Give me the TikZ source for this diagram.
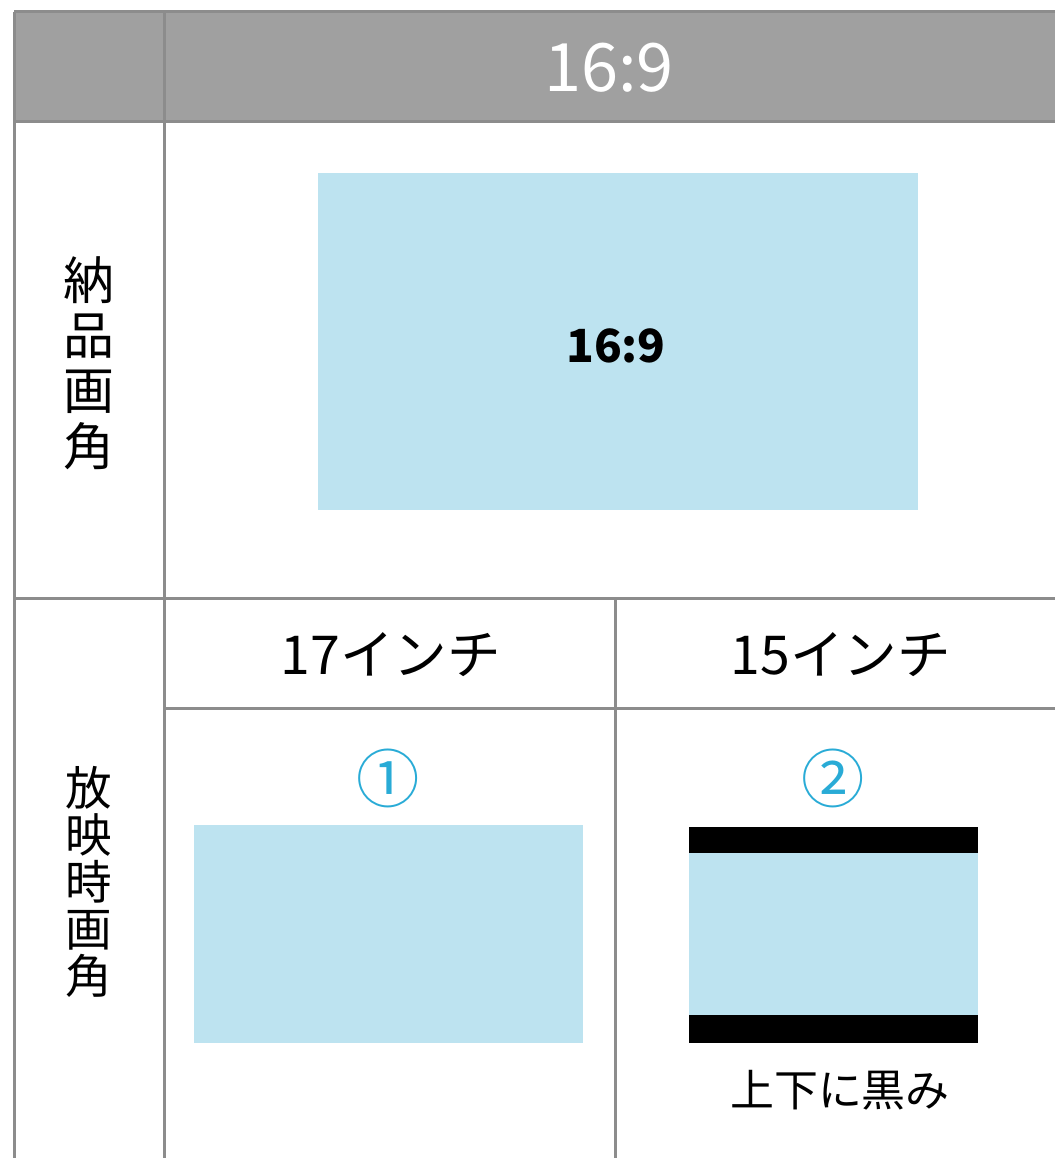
\documentclass[tikz,border=0pt]{standalone}
\usepackage{fontspec}
\setmainfont{Noto Sans CJK JP}
\usepackage{tikz}
\usetikzlibrary{positioning}

\definecolor{screenblue}{RGB}{189,227,240}
\definecolor{headgray}{RGB}{160,160,160}
\definecolor{rulegray}{RGB}{140,140,140}
\definecolor{markcyan}{RGB}{41,171,214}

\tikzset{
  gridline/.style={draw=rulegray, line width=0.6mm},
  rowlabel/.style={align=center, inner sep=0pt},
  sizelabel/.style={font=\fontsize{30.5}{32}\selectfont, inner sep=0pt},
  marknum/.style={font=\fontsize{36}{38}\selectfont, text=markcyan, inner sep=0pt}
}

\begin{document}
\begin{tikzpicture}[x=0.2mm,y=-0.2mm]
\useasboundingbox (0,0) rectangle (1055,1158);

% Header
\fill[headgray] (14,12) rectangle (1055,122);
\node[font=\fontsize{38}{40}\selectfont, text=white, inner sep=0pt] (head) at (609,68) {16:9};

% Grid lines
\draw[gridline] (14,12) -- (1055,12);
\draw[gridline] (14,122) -- (1055,122);
\draw[gridline] (14,598) -- (1055,598);
\draw[gridline] (164,708) -- (1055,708);
\draw[gridline] (14,12) -- (14,1158);
\draw[gridline] (164,12) -- (164,1158);
\draw[gridline] (615,598) -- (615,1158);

% Row labels
\node[rowlabel, font=\fontsize{29}{31.5}\selectfont] (nohin) at (89,363) {納\\品\\画\\角};
\node[rowlabel, font=\fontsize{26.5}{26.8}\selectfont] (hoei) at (89,882) {放\\映\\時\\画\\角};

% Delivered picture
\fill[screenblue] (318,173) rectangle (918,510);
\node[font=\bfseries\fontsize{26}{28}\selectfont, inner sep=0pt] (deliv) at (616,346) {16:9};

% Screen sizes
\node[sizelabel] (inch17) at (391,655) {17インチ};
\node[sizelabel] (inch15) at (841,655) {15インチ};

% Case 1
\node[marknum] (one) at (388,778) {①};
\fill[screenblue] (194,825) rectangle (583,1043);

% Case 2
\node[marknum] (two) at (833,778) {②};
\fill[screenblue] (689,827) rectangle (978,1043);
\fill[black] (689,827) rectangle (978,853);
\fill[black] (689,1015) rectangle (978,1043);
\node[font=\fontsize{25}{27}\selectfont, inner sep=0pt] (bars) at (840,1090) {上下に黒み};
\end{tikzpicture}
\end{document}
